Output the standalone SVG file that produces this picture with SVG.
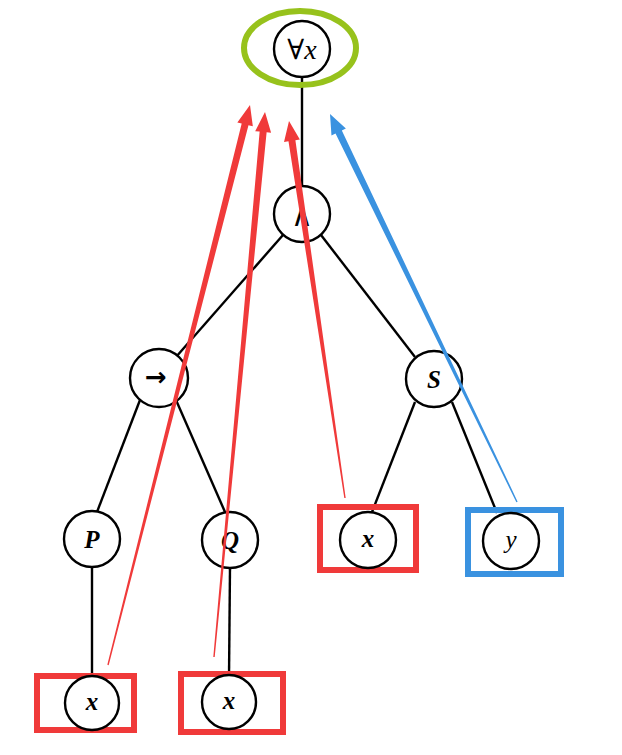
<svg xmlns="http://www.w3.org/2000/svg" width="622" height="755" viewBox="0 0 622 755">
<style>
.n{fill:#fff;stroke:#000;stroke-width:2.4}
.e{stroke:#000;stroke-width:2.4;fill:none}
.t{font-family:"Liberation Serif","DejaVu Serif",serif;font-style:italic;font-weight:bold;font-size:25px;text-anchor:middle;fill:#000}
.s{font-family:"DejaVu Sans","Liberation Sans",sans-serif;font-size:22px;text-anchor:middle;fill:#000}
.rb{fill:none;stroke:#f03a3a;stroke-width:6}
.bb{fill:none;stroke:#3a92e0;stroke-width:6}
.ra{fill:#f03a3a}
.ba{fill:#3a92e0}
</style>
<rect width="622" height="755" fill="#fff"/>
<g id="connectors">
<line class="e" x1="302" y1="76" x2="302" y2="186"/>
<line class="e" x1="283" y1="235" x2="176" y2="357"/>
<line class="e" x1="321" y1="235" x2="415" y2="357"/>
<line class="e" x1="140" y1="400" x2="97" y2="512"/>
<line class="e" x1="176" y1="400" x2="225" y2="512"/>
<line class="e" x1="415" y1="402" x2="372" y2="512"/>
<line class="e" x1="452" y1="402" x2="497" y2="513"/>
<line class="e" x1="92" y1="566" x2="92" y2="677"/>
<line class="e" x1="230" y1="567" x2="229" y2="677"/>
</g>
<g id="n-forall">
<ellipse cx="300" cy="48" rx="56" ry="37" fill="none" stroke="#97c21c" stroke-width="6"/>
<circle class="n" cx="302" cy="49" r="28"/>
<text x="302" y="59" style="font-family:'DejaVu Serif','Liberation Serif',serif;font-size:28px;text-anchor:middle">∀<tspan style="font-family:'Liberation Serif',serif;font-style:italic">x</tspan></text>
</g>
<g id="n-and">
<circle class="n" cx="302" cy="214" r="28"/>
<text class="s" x="302" y="226" style="font-size:30px;font-weight:200">∧</text>
</g>
<g id="n-imp">
<circle class="n" cx="159" cy="378" r="29"/>
<text class="s" x="156" y="386" style="font-size:26px;font-weight:bold">→</text>
</g>
<g id="n-S">
<circle class="n" cx="434" cy="379" r="28"/>
<text class="t" x="434" y="388">S</text>
</g>
<g id="n-P">
<circle class="n" cx="92" cy="539" r="28"/>
<text class="t" x="92" y="548">P</text>
</g>
<g id="n-Q">
<circle class="n" cx="230" cy="540" r="28"/>
<text class="t" x="230" y="549">Q</text>
</g>
<g id="n-x3">
<rect class="rb" x="320" y="507" width="96" height="63"/>
<circle class="n" cx="368" cy="540" r="28"/>
<text class="t" x="368" y="547">x</text>
</g>
<g id="n-y">
<rect class="bb" x="468" y="510" width="93" height="64"/>
<circle class="n" cx="511" cy="541" r="28"/>
<text class="t" x="511" y="548" style="font-weight:normal">y</text>
</g>
<g id="n-x1">
<rect class="rb" x="37" y="676" width="97" height="54"/>
<circle class="n" cx="92" cy="703" r="27"/>
<text class="t" x="92" y="710">x</text>
</g>
<g id="n-x2">
<rect class="rb" x="181" y="674" width="102" height="58"/>
<circle class="n" cx="229" cy="702" r="27"/>
<text class="t" x="229" y="709">x</text>
</g>
<g id="arrows">
<polygon class="ra" points="108.68,665.17 248.47,125.25 252.83,126.36 250,105 237.33,122.42 241.69,123.53 107.32,664.83"/>
<polygon class="ra" points="214.70,657.07 266.62,132.24 271.10,132.66 265,112 255.18,131.16 259.66,131.58 213.30,656.93"/>
<polygon class="ra" points="345.69,497.90 295.40,140.27 299.85,139.61 289,121 284.03,141.96 288.48,141.29 344.31,498.10"/>
<polygon class="ba" points="517.63,501.70 341.83,130.50 345.89,128.55 330,114 331.47,135.49 335.53,133.54 516.37,502.30"/>
</g>
</svg>
